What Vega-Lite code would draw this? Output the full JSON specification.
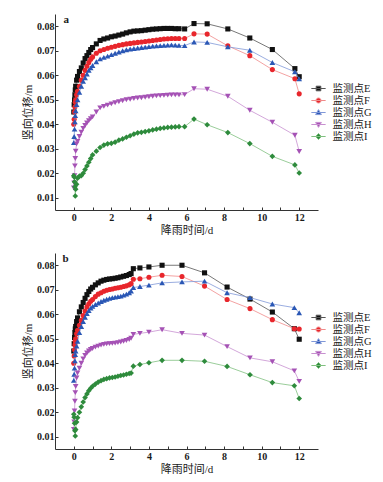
{
"$schema": "https://vega.github.io/schema/vega-lite/v6.json",
"background": "#ffffff",
"padding": {"left": 22, "top": 14, "right": 2, "bottom": 2},
"spacing": 18,
"config": {
  "view": {"stroke": null},
  "font": "Liberation Serif, Noto Sans CJK SC",
  "axis": {"labelFont": "Liberation Serif", "labelFontSize": 10, "labelFontWeight": "bold", "labelColor": "#1a1a1a", "titleFont": "Liberation Serif, Noto Sans CJK SC", "titleFontSize": 11, "titleFontWeight": "normal", "titleColor": "#1a1a1a", "domainColor": "#333333", "tickColor": "#333333", "grid": false, "domainWidth": 1},
  "legend": {"orient": "none", "title": null, "labelFont": "Liberation Serif, Noto Sans CJK SC", "labelFontSize": 10.5, "labelColor": "#1a1a1a", "labelOffset": 8, "symbolSize": 121, "symbolOpacity": 1, "symbolStrokeWidth": 1, "rowPadding": -1, "padding": 0}
},
"datasets": {"d": [
{"p":"a","t":0,"E":0.045,"F":0.040,"G":0.0325,"H":0.014,"I":0.019},
{"p":"a","t":0.02,"E":0.048,"F":0.042,"G":0.035,"H":0.016,"I":0.0185},
{"p":"a","t":0.04,"E":0.050,"F":0.045,"G":0.038,"H":0.019,"I":0.0165},
{"p":"a","t":0.06,"E":0.052,"F":0.047,"G":0.041,"H":0.023,"I":0.0145},
{"p":"a","t":0.08,"E":0.054,"F":0.049,"G":0.0435,"H":0.026,"I":0.0107},
{"p":"a","t":0.1,"E":0.0555,"F":0.050,"G":0.0455,"H":0.029,"I":0.0135},
{"p":"a","t":0.15,"E":0.058,"F":0.052,"G":0.048,"H":0.032,"I":0.0155},
{"p":"a","t":0.2,"E":0.0595,"F":0.0535,"G":0.050,"H":0.033,"I":0.018},
{"p":"a","t":0.3,"E":0.0615,"F":0.0555,"G":0.053,"H":0.035,"I":0.0188},
{"p":"a","t":0.4,"E":0.063,"F":0.058,"G":0.0555,"H":0.0368,"I":0.019},
{"p":"a","t":0.5,"E":0.065,"F":0.060,"G":0.0575,"H":0.0383,"I":0.020},
{"p":"a","t":0.6,"E":0.0668,"F":0.062,"G":0.059,"H":0.0395,"I":0.0215},
{"p":"a","t":0.7,"E":0.068,"F":0.0637,"G":0.0605,"H":0.0405,"I":0.023},
{"p":"a","t":0.8,"E":0.0693,"F":0.0652,"G":0.062,"H":0.0415,"I":0.0245},
{"p":"a","t":0.9,"E":0.0705,"F":0.0665,"G":0.063,"H":0.0423,"I":0.026},
{"p":"a","t":1.0,"E":0.0713,"F":0.0675,"G":0.064,"H":0.043,"I":0.0275},
{"p":"a","t":1.2,"E":0.0728,"F":0.069,"G":0.0655,"H":0.045,"I":0.029},
{"p":"a","t":1.4,"E":0.0742,"F":0.070,"G":0.0667,"H":0.0467,"I":0.0305},
{"p":"a","t":1.6,"E":0.0748,"F":0.0705,"G":0.0673,"H":0.0473,"I":0.0315},
{"p":"a","t":1.8,"E":0.0752,"F":0.071,"G":0.0678,"H":0.0478,"I":0.032},
{"p":"a","t":2.0,"E":0.0757,"F":0.0714,"G":0.0684,"H":0.0483,"I":0.0322},
{"p":"a","t":2.2,"E":0.076,"F":0.0718,"G":0.069,"H":0.0488,"I":0.0327},
{"p":"a","t":2.4,"E":0.0764,"F":0.0722,"G":0.0695,"H":0.0492,"I":0.0335},
{"p":"a","t":2.6,"E":0.0768,"F":0.0725,"G":0.070,"H":0.0496,"I":0.034},
{"p":"a","t":2.8,"E":0.0773,"F":0.0728,"G":0.0704,"H":0.050,"I":0.0347},
{"p":"a","t":3.0,"E":0.0777,"F":0.073,"G":0.0707,"H":0.0502,"I":0.0353},
{"p":"a","t":3.2,"E":0.078,"F":0.0732,"G":0.0709,"H":0.0505,"I":0.036},
{"p":"a","t":3.4,"E":0.0781,"F":0.0734,"G":0.0711,"H":0.0507,"I":0.0365},
{"p":"a","t":3.6,"E":0.0782,"F":0.0736,"G":0.0713,"H":0.0508,"I":0.0367},
{"p":"a","t":3.8,"E":0.0784,"F":0.0738,"G":0.0715,"H":0.051,"I":0.037},
{"p":"a","t":4.0,"E":0.0786,"F":0.074,"G":0.0717,"H":0.0512,"I":0.0373},
{"p":"a","t":4.2,"E":0.0788,"F":0.0742,"G":0.0719,"H":0.0514,"I":0.0377},
{"p":"a","t":4.4,"E":0.0789,"F":0.0744,"G":0.072,"H":0.0516,"I":0.038},
{"p":"a","t":4.6,"E":0.079,"F":0.0746,"G":0.0721,"H":0.0517,"I":0.0383},
{"p":"a","t":4.8,"E":0.0791,"F":0.0748,"G":0.0722,"H":0.0518,"I":0.0385},
{"p":"a","t":5.0,"E":0.0791,"F":0.0749,"G":0.0723,"H":0.0519,"I":0.0387},
{"p":"a","t":5.2,"E":0.0791,"F":0.075,"G":0.0724,"H":0.052,"I":0.0388},
{"p":"a","t":5.4,"E":0.079,"F":0.075,"G":0.0723,"H":0.052,"I":0.0389},
{"p":"a","t":5.6,"E":0.079,"F":0.075,"G":0.0722,"H":0.052,"I":0.039},
{"p":"a","t":5.9,"E":0.0789,"F":0.075,"G":0.0721,"H":0.0521,"I":0.039},
{"p":"a","t":6.4,"E":0.0811,"F":0.0769,"G":0.0736,"H":0.0545,"I":0.0421},
{"p":"a","t":7.1,"E":0.081,"F":0.0768,"G":0.0734,"H":0.0543,"I":0.0398},
{"p":"a","t":8.2,"E":0.0789,"F":0.072,"G":0.0716,"H":0.0514,"I":0.0366},
{"p":"a","t":9.37,"E":0.0752,"F":0.068,"G":0.0702,"H":0.0457,"I":0.0321},
{"p":"a","t":10.57,"E":0.0705,"F":0.0623,"G":0.0652,"H":0.0408,"I":0.0269},
{"p":"a","t":11.77,"E":0.0627,"F":0.0586,"G":0.0614,"H":0.0355,"I":0.0234},
{"p":"a","t":12.0,"E":0.0594,"F":0.0524,"G":0.0585,"H":0.0289,"I":0.0201},
{"p":"b","t":0,"E":0.045,"F":0.040,"G":0.033,"H":0.013,"I":0.0192},
{"p":"b","t":0.02,"E":0.048,"F":0.043,"G":0.0355,"H":0.016,"I":0.018},
{"p":"b","t":0.04,"E":0.0505,"F":0.0455,"G":0.038,"H":0.0205,"I":0.0155},
{"p":"b","t":0.06,"E":0.0525,"F":0.0475,"G":0.041,"H":0.0245,"I":0.0125},
{"p":"b","t":0.08,"E":0.054,"F":0.049,"G":0.0435,"H":0.028,"I":0.0103},
{"p":"b","t":0.1,"E":0.055,"F":0.050,"G":0.045,"H":0.0305,"I":0.013},
{"p":"b","t":0.15,"E":0.057,"F":0.052,"G":0.047,"H":0.034,"I":0.016},
{"p":"b","t":0.2,"E":0.0585,"F":0.0535,"G":0.049,"H":0.036,"I":0.0178},
{"p":"b","t":0.3,"E":0.061,"F":0.0555,"G":0.0525,"H":0.038,"I":0.020},
{"p":"b","t":0.4,"E":0.063,"F":0.0575,"G":0.055,"H":0.040,"I":0.0222},
{"p":"b","t":0.5,"E":0.0648,"F":0.0595,"G":0.057,"H":0.0418,"I":0.0242},
{"p":"b","t":0.6,"E":0.0665,"F":0.0613,"G":0.0588,"H":0.0432,"I":0.026},
{"p":"b","t":0.7,"E":0.068,"F":0.063,"G":0.0603,"H":0.0442,"I":0.0275},
{"p":"b","t":0.8,"E":0.0693,"F":0.0643,"G":0.0615,"H":0.045,"I":0.0288},
{"p":"b","t":0.9,"E":0.0703,"F":0.0653,"G":0.0625,"H":0.0456,"I":0.0298},
{"p":"b","t":1.0,"E":0.071,"F":0.066,"G":0.0632,"H":0.046,"I":0.0306},
{"p":"b","t":1.15,"E":0.072,"F":0.0672,"G":0.064,"H":0.0466,"I":0.0315},
{"p":"b","t":1.3,"E":0.0728,"F":0.0682,"G":0.0646,"H":0.047,"I":0.0323},
{"p":"b","t":1.45,"E":0.0735,"F":0.0688,"G":0.0652,"H":0.0474,"I":0.0329},
{"p":"b","t":1.6,"E":0.0739,"F":0.0694,"G":0.0657,"H":0.0477,"I":0.0334},
{"p":"b","t":1.75,"E":0.0742,"F":0.0698,"G":0.0661,"H":0.0479,"I":0.0337},
{"p":"b","t":1.9,"E":0.0744,"F":0.0701,"G":0.0665,"H":0.048,"I":0.034},
{"p":"b","t":2.05,"E":0.0745,"F":0.0703,"G":0.0668,"H":0.0481,"I":0.0342},
{"p":"b","t":2.2,"E":0.0747,"F":0.0706,"G":0.067,"H":0.0482,"I":0.0344},
{"p":"b","t":2.35,"E":0.0749,"F":0.0708,"G":0.0672,"H":0.0484,"I":0.0347},
{"p":"b","t":2.5,"E":0.0752,"F":0.071,"G":0.0674,"H":0.0487,"I":0.035},
{"p":"b","t":2.65,"E":0.0755,"F":0.0713,"G":0.0678,"H":0.049,"I":0.0352},
{"p":"b","t":2.8,"E":0.0758,"F":0.0716,"G":0.0682,"H":0.0493,"I":0.0355},
{"p":"b","t":2.95,"E":0.0762,"F":0.072,"G":0.0688,"H":0.0497,"I":0.0358},
{"p":"b","t":3.05,"E":0.0766,"F":0.0725,"G":0.0695,"H":0.0502,"I":0.036},
{"p":"b","t":3.17,"E":0.0786,"F":0.0743,"G":0.0709,"H":0.0518,"I":0.0388},
{"p":"b","t":3.52,"E":0.0789,"F":0.0745,"G":0.0713,"H":0.0522,"I":0.0395},
{"p":"b","t":4.0,"E":0.0793,"F":0.0751,"G":0.0719,"H":0.0527,"I":0.0402},
{"p":"b","t":4.7,"E":0.080,"F":0.0759,"G":0.0728,"H":0.0537,"I":0.0412},
{"p":"b","t":5.76,"E":0.080,"F":0.0754,"G":0.0732,"H":0.0522,"I":0.0412},
{"p":"b","t":6.96,"E":0.0769,"F":0.0715,"G":0.0735,"H":0.0515,"I":0.0408},
{"p":"b","t":8.16,"E":0.0711,"F":0.066,"G":0.0688,"H":0.0468,"I":0.0387},
{"p":"b","t":9.38,"E":0.0662,"F":0.0623,"G":0.0668,"H":0.0422,"I":0.0353},
{"p":"b","t":10.57,"E":0.0609,"F":0.0578,"G":0.0642,"H":0.0406,"I":0.0321},
{"p":"b","t":11.74,"E":0.0541,"F":0.0541,"G":0.0627,"H":0.0369,"I":0.0308},
{"p":"b","t":12.0,"E":0.0498,"F":0.054,"G":0.0606,"H":0.0326,"I":0.0256}
]},
"vconcat": [
{
  "width": 263, "height": 196,
  "encoding": {
    "x": {"field": "t", "type": "quantitative", "scale": {"domain": [-1, 13], "nice": false, "zero": false},
      "axis": {"title": "降雨时间/d", "values": [0,1,2,3,4,5,6,7,8,9,10,11,12], "labelExpr": "datum.value % 2 === 0 ? datum.label : ''", "format": "d", "tickSize": -3, "labelPadding": 5, "titlePadding": 2}},
    "y": {"field": "v", "type": "quantitative", "scale": {"domain": [0.005, 0.085], "nice": false, "zero": false},
      "axis": {"title": "竖向位移/m", "values": [0.01,0.02,0.03,0.04,0.05,0.06,0.07,0.08], "format": ".2f", "tickSize": -3, "labelPadding": 4, "titlePadding": 3}}
  },
  "layer": [
    {
      "data": {"name": "d"},
      "transform": [{"filter": "datum.p === 'a'"}, {"fold": ["E","F","G","H","I"], "as": ["s","v"]}],
      "layer": [
        {"transform": [{"filter": "datum.s === 'E'"}], "mark": {"type": "line", "strokeWidth": 0.8, "color": "#555555", "point": {"shape": "square", "filled": true, "size": 26, "color": "#111111", "opacity": 1}}},
        {"transform": [{"filter": "datum.s === 'F'"}], "mark": {"type": "line", "strokeWidth": 0.8, "color": "#f08a8a", "point": {"shape": "circle", "filled": true, "size": 26, "color": "#e8262c", "opacity": 1}}},
        {"transform": [{"filter": "datum.s === 'G'"}], "mark": {"type": "line", "strokeWidth": 0.8, "color": "#8098d8", "point": {"shape": "triangle-up", "filled": true, "size": 32, "color": "#2a57b5", "opacity": 1}}},
        {"transform": [{"filter": "datum.s === 'H'"}], "mark": {"type": "line", "strokeWidth": 0.8, "color": "#c890d0", "point": {"shape": "triangle-down", "filled": true, "size": 32, "color": "#a552b5", "opacity": 1}}},
        {"transform": [{"filter": "datum.s === 'I'"}], "mark": {"type": "line", "strokeWidth": 0.8, "color": "#80c080", "point": {"shape": "diamond", "filled": true, "size": 32, "color": "#2e8b3c", "opacity": 1}}},
        {"transform": [{"filter": "datum.t === 0"}], "mark": {"type": "point", "filled": true, "size": 121, "opacity": 0},
          "encoding": {
            "color": {"field": "s", "type": "nominal", "scale": {"domain": ["E","F","G","H","I"], "range": ["#111111","#e8262c","#2a57b5","#a552b5","#2e8b3c"]},
              "legend": {"legendX": 257.5, "legendY": 68.5, "labelExpr": "'监测点' + datum.label"}},
            "stroke": {"field": "s", "type": "nominal", "scale": {"domain": ["E","F","G","H","I"], "range": ["#555555","#f08a8a","#8098d8","#c890d0","#80c080"]},
              "legend": {"legendX": 257.5, "legendY": 68.5, "labelExpr": "'监测点' + datum.label"}},
            "shape": {"field": "s", "type": "nominal", "scale": {"domain": ["E","F","G","H","I"], "range": ["M-1.3,0H1.3M-0.42,-0.42H0.42V0.42H-0.42Z","M-1.3,0H1.3M-0.45,0A0.45,0.45,0,1,0,0.45,0A0.45,0.45,0,1,0,-0.45,0Z","M-1.3,0H1.3M0,-0.52L0.52,0.38L-0.52,0.38Z","M-1.3,0H1.3M0,0.52L0.52,-0.38L-0.52,-0.38Z","M-1.3,0H1.3M0,-0.54L0.54,0L0,0.54L-0.54,0Z"]},
              "legend": {"legendX": 257.5, "legendY": 68.5, "labelExpr": "'监测点' + datum.label"}}
          }}
      ]
    },
    {"data": {"values": [{"t": -0.4, "v": 0.0825, "lab": "a"}]}, "mark": {"type": "text", "font": "Liberation Serif", "fontSize": 11, "fontWeight": "bold", "color": "#1a1a1a"}, "encoding": {"text": {"field": "lab"}}}
  ]
},
{
  "width": 263, "height": 196,
  "encoding": {
    "x": {"field": "t", "type": "quantitative", "scale": {"domain": [-1, 13], "nice": false, "zero": false},
      "axis": {"title": "降雨时间/d", "values": [0,1,2,3,4,5,6,7,8,9,10,11,12], "labelExpr": "datum.value % 2 === 0 ? datum.label : ''", "format": "d", "tickSize": -3, "labelPadding": 5, "titlePadding": 2}},
    "y": {"field": "v", "type": "quantitative", "scale": {"domain": [0.005, 0.085], "nice": false, "zero": false},
      "axis": {"title": "竖向位移/m", "values": [0.01,0.02,0.03,0.04,0.05,0.06,0.07,0.08], "format": ".2f", "tickSize": -3, "labelPadding": 4, "titlePadding": 3}}
  },
  "layer": [
    {
      "data": {"name": "d"},
      "transform": [{"filter": "datum.p === 'b'"}, {"fold": ["E","F","G","H","I"], "as": ["s","v"]}],
      "layer": [
        {"transform": [{"filter": "datum.s === 'E'"}], "mark": {"type": "line", "strokeWidth": 0.8, "color": "#555555", "point": {"shape": "square", "filled": true, "size": 26, "color": "#111111", "opacity": 1}}},
        {"transform": [{"filter": "datum.s === 'F'"}], "mark": {"type": "line", "strokeWidth": 0.8, "color": "#f08a8a", "point": {"shape": "circle", "filled": true, "size": 26, "color": "#e8262c", "opacity": 1}}},
        {"transform": [{"filter": "datum.s === 'G'"}], "mark": {"type": "line", "strokeWidth": 0.8, "color": "#8098d8", "point": {"shape": "triangle-up", "filled": true, "size": 32, "color": "#2a57b5", "opacity": 1}}},
        {"transform": [{"filter": "datum.s === 'H'"}], "mark": {"type": "line", "strokeWidth": 0.8, "color": "#c890d0", "point": {"shape": "triangle-down", "filled": true, "size": 32, "color": "#a552b5", "opacity": 1}}},
        {"transform": [{"filter": "datum.s === 'I'"}], "mark": {"type": "line", "strokeWidth": 0.8, "color": "#80c080", "point": {"shape": "diamond", "filled": true, "size": 32, "color": "#2e8b3c", "opacity": 1}}},
        {"transform": [{"filter": "datum.t === 0"}], "mark": {"type": "point", "filled": true, "size": 121, "opacity": 0},
          "encoding": {
            "color": {"field": "s", "type": "nominal", "scale": {"domain": ["E","F","G","H","I"], "range": ["#111111","#e8262c","#2a57b5","#a552b5","#2e8b3c"]},
              "legend": {"legendX": 257.5, "legendY": 58.5, "labelExpr": "'监测点' + datum.label"}},
            "stroke": {"field": "s", "type": "nominal", "scale": {"domain": ["E","F","G","H","I"], "range": ["#555555","#f08a8a","#8098d8","#c890d0","#80c080"]},
              "legend": {"legendX": 257.5, "legendY": 58.5, "labelExpr": "'监测点' + datum.label"}},
            "shape": {"field": "s", "type": "nominal", "scale": {"domain": ["E","F","G","H","I"], "range": ["M-1.3,0H1.3M-0.42,-0.42H0.42V0.42H-0.42Z","M-1.3,0H1.3M-0.45,0A0.45,0.45,0,1,0,0.45,0A0.45,0.45,0,1,0,-0.45,0Z","M-1.3,0H1.3M0,-0.52L0.52,0.38L-0.52,0.38Z","M-1.3,0H1.3M0,0.52L0.52,-0.38L-0.52,-0.38Z","M-1.3,0H1.3M0,-0.54L0.54,0L0,0.54L-0.54,0Z"]},
              "legend": {"legendX": 257.5, "legendY": 58.5, "labelExpr": "'监测点' + datum.label"}}
          }}
      ]
    },
    {"data": {"values": [{"t": -0.44, "v": 0.0825, "lab": "b"}]}, "mark": {"type": "text", "font": "Liberation Serif", "fontSize": 11, "fontWeight": "bold", "color": "#1a1a1a"}, "encoding": {"text": {"field": "lab"}}}
  ]
}
],
"resolve": {"scale": {"color": "independent", "shape": "independent", "stroke": "independent"}, "legend": {"color": "independent", "shape": "independent", "stroke": "independent"}}
}
